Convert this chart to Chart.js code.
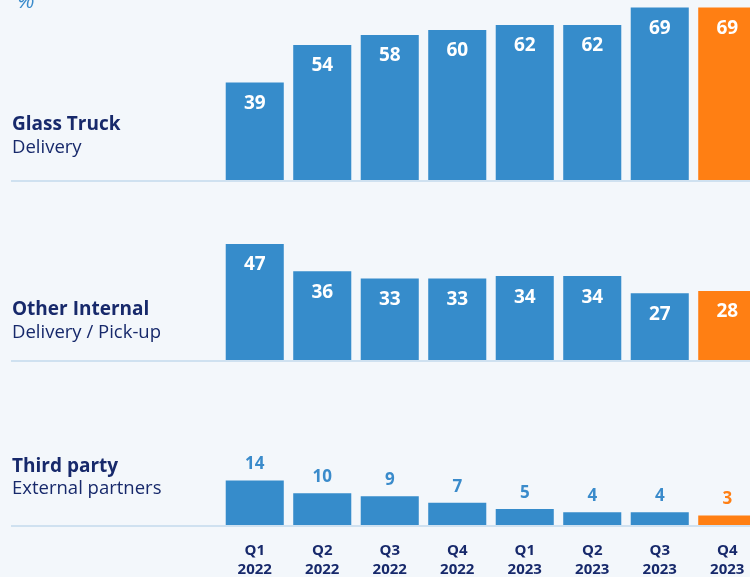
<!DOCTYPE html>
<html>
<head>
<meta charset="utf-8">
<script src="https://cdn.jsdelivr.net/npm/chart.js@4/dist/chart.umd.min.js"></script>
<style>
  html, body { margin: 0; padding: 0; background: #f3f7fb; overflow: hidden; }
  #wrap { position: relative; width: 750px; height: 577px; overflow: hidden; }
</style>
</head>
<body>
<div id="wrap"><canvas id="chart" width="800" height="595"></canvas></div>
<script>
// quarters on the x axis
const quarters = [['Q1', '2022'], ['Q2', '2022'], ['Q3', '2022'], ['Q4', '2022'],
                  ['Q1', '2023'], ['Q2', '2023'], ['Q3', '2023'], ['Q4', '2023']];

// share of deliveries, %
const glassTruck = [39, 54, 58, 60, 62, 62, 69, 69];
const otherInternal = [47, 36, 33, 33, 34, 34, 27, 28];
const thirdParty = [14, 10, 9, 7, 5, 4, 4, 3];

const panelTitles = ['Glass Truck', 'Other Internal', 'Third party'];
const panelSubtitles = ['Delivery', 'Delivery / Pick-up', 'External partners'];

const BLUE = '#368ccb';
const ORANGE = '#ff7f13';
const NAVY = '#17296b';
const FONT = '"Open Sans", "Noto Sans", sans-serif';

// last quarter highlighted in orange
function barColors(values) {
    return values.map((v, i) => i === values.length - 1 ? ORANGE : BLUE);
}

function yAxis(max, weight) {
    return {
        type: 'linear',
        min: 0,
        max: max,
        stack: 'panels',
        stackWeight: weight,
        grid: { display: false, drawTicks: false },
        border: { display: false },
        ticks: { display: false }
    };
}

// baselines, left-hand titles and the value labels
const panelDecor = {
    id: 'panelDecor',
    beforeDatasetsDraw(chart) {
        const ctx = chart.ctx;
        ctx.save();
        ctx.strokeStyle = '#cfe1f0';
        ctx.lineWidth = 2;
        ['y1', 'y2', 'y3'].forEach(id => {
            const y = chart.scales[id].getPixelForValue(0) + 1;
            ctx.beginPath();
            ctx.moveTo(11, y);
            ctx.lineTo(chart.width, y);
            ctx.stroke();
        });

        // "%" unit, mostly cut off at the top
        ctx.fillStyle = '#3a8bcb';
        ctx.font = 'italic 22px ' + FONT;
        ctx.textBaseline = 'alphabetic';
        ctx.textAlign = 'left';
        ctx.fillText('%', 17, 8);

        const titleOffsets = [[55, 32], [50, 27], [58, 36]];
        ['y1', 'y2', 'y3'].forEach((id, i) => {
            const base = chart.scales[id].getPixelForValue(0);
            ctx.fillStyle = NAVY;
            ctx.textBaseline = 'middle';
            ctx.font = 'bold 19px ' + FONT;
            ctx.fillText(panelTitles[i], 12, base - titleOffsets[i][0]);
            ctx.font = '18.5px ' + FONT;
            ctx.fillText(panelSubtitles[i], 12, base - titleOffsets[i][1]);
        });
        ctx.restore();
    },
    afterDatasetsDraw(chart) {
        const ctx = chart.ctx;
        ctx.save();
        ctx.textAlign = 'center';
        ctx.textBaseline = 'middle';
        chart.data.datasets.forEach((ds, di) => {
            chart.getDatasetMeta(di).data.forEach((bar, i) => {
                const last = i === ds.data.length - 1;
                if (di < 2) {
                    ctx.fillStyle = '#ffffff';
                    ctx.font = 'bold 19px ' + FONT;
                    ctx.fillText(ds.data[i], bar.x, bar.y + 21);
                } else {
                    ctx.fillStyle = last ? ORANGE : '#3a8bcb';
                    ctx.font = 'bold 17px ' + FONT;
                    ctx.fillText(ds.data[i], bar.x, bar.y - 16);
                }
            });
        });
        ctx.restore();
    }
};

new Chart(document.getElementById('chart'), {
    type: 'bar',
    data: {
        labels: quarters,
        datasets: [
            { label: 'Glass Truck', data: glassTruck, yAxisID: 'y1', backgroundColor: barColors(glassTruck) },
            { label: 'Other Internal', data: otherInternal, yAxisID: 'y2', backgroundColor: barColors(otherInternal) },
            { label: 'Third party', data: thirdParty, yAxisID: 'y3', backgroundColor: barColors(thirdParty) }
        ]
    },
    options: {
        responsive: false,
        animation: false,
        devicePixelRatio: 1,
        layout: { padding: { left: 221, right: 39, top: 0, bottom: 0 } },
        datasets: {
            bar: { grouped: false, categoryPercentage: 1, barPercentage: 0.86 }
        },
        plugins: {
            legend: { display: false },
            tooltip: { enabled: false }
        },
        scales: {
            x: {
                grid: { display: false, drawTicks: false },
                border: { display: false },
                ticks: {
                    color: NAVY,
                    padding: 16,
                    maxRotation: 0,
                    font: { family: FONT, size: 15, weight: 'bold', lineHeight: 1.27 }
                }
            },
            // stacked axes are laid out bottom-up, so the lowest panel comes first
            y3: yAxis(52, 165),
            y2: yAxis(73, 180),
            y1: yAxis(72, 180)
        }
    },
    plugins: [panelDecor]
});
</script>
</body>
</html>
